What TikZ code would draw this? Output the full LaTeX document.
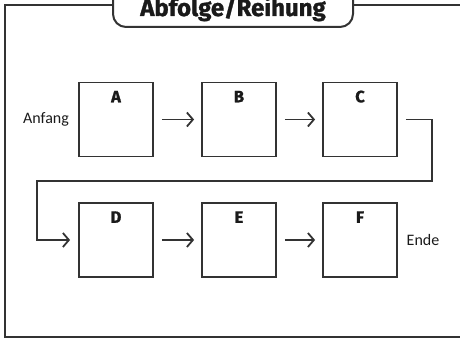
\documentclass[tikz,border=0pt]{standalone}
\usepackage{fontspec}
\setmainfont{Fira Sans}[BoldFeatures={FakeBold=1.2}]
\newfontfamily\labfont{Carlito}
\usetikzlibrary{arrows.meta}
\definecolor{ln}{HTML}{333333}
\definecolor{tx}{HTML}{1A1A1A}
\tikzset{
  box/.style={draw=ln, line width=1.8pt, minimum size=74pt, inner sep=0pt, fill=white},
  letter/.style={font=\fontsize{16.5}{16.5}\selectfont\bfseries, text=tx},
  side/.style={font=\labfont\fontsize{16}{16}\selectfont, text=tx},
  flow/.style={draw=ln, line width=1.8pt, -{Straight Barb[length=6pt,width=14pt,line width=1.8pt]}},
  frame/.style={draw=ln, line width=2pt},
}
\begin{document}
\begin{tikzpicture}[x=1pt,y=1pt]
\useasboundingbox (0,0) rectangle (460,340);
\clip (0,0) rectangle (460,340);
% outer frame
\draw[frame] (4.5,3) rectangle (475,335);
% title box
\draw[frame, fill=white, rounded corners=13pt] (113,360) rectangle (353,313);
\node[anchor=base, font=\fontsize{24}{24}\selectfont\bfseries, text=tx] (title) at (233,324) {Abfolge/Reihung};
% boxes
\node[box] (A) at (116,220.5) {};
\node[box] (B) at (239,220.5) {};
\node[box] (C) at (360,220.5) {};
\node[box] (D) at (116,100) {};
\node[box] (E) at (239,100) {};
\node[box] (F) at (360,100) {};
\foreach \n in {A,B,C,D,E,F}{
  \node[letter, anchor=center] (l\n) at ([yshift=-15pt]\n.north) {\n};
}
% side labels
\node[side] (start) at (46,220.5) {Anfang};
\node[side] (end) at (423,100) {Ende};
% arrows
\draw[flow, shorten <=8pt, shorten >=7pt] (A) -- (B);
\draw[flow, shorten <=8pt, shorten >=7pt] (B) -- (C);
\draw[flow, shorten <=8pt, shorten >=7pt] (D) -- (E);
\draw[flow, shorten <=8pt, shorten >=7pt] (E) -- (F);
\coordinate (c1) at (432,220.5);
\coordinate (c2) at (432,159);
\coordinate (c3) at (37,159);
\coordinate (c4) at (37,100);
\draw[flow, shorten >=8pt] ([xshift=8pt]C.east) -- (c1) -- (c2) -- (c3) -- (c4) -- (D.west);
\end{tikzpicture}
\end{document}
